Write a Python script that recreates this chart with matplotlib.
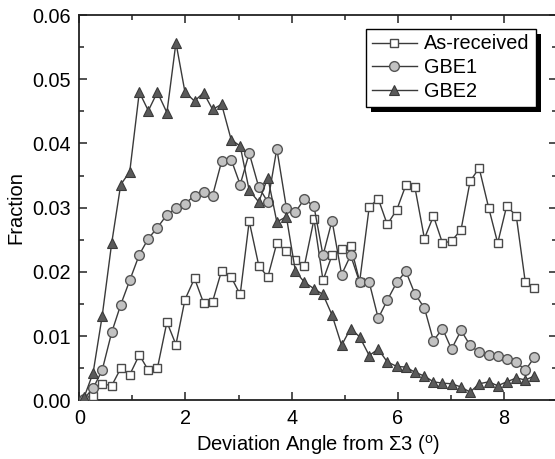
import matplotlib
matplotlib.use("Agg")
import matplotlib.pyplot as plt
from matplotlib.patches import Rectangle
from matplotlib.ticker import MultipleLocator, FormatStrFormatter

plt.rcParams['font.family'] = ['Liberation Sans', 'DejaVu Sans']
plt.rcParams['mathtext.fontset'] = 'custom'
plt.rcParams['mathtext.rm'] = 'Liberation Sans'
plt.rcParams['mathtext.it'] = 'Liberation Sans:italic'

angle = [0.09, 0.26, 0.43, 0.61, 0.78, 0.95, 1.13, 1.30, 1.47, 1.65,
         1.82, 1.99, 2.17, 2.34, 2.51, 2.68, 2.86, 3.03, 3.20, 3.38,
         3.55, 3.72, 3.90, 4.07, 4.24, 4.42, 4.59, 4.76, 4.94, 5.11,
         5.28, 5.46, 5.63, 5.80, 5.98, 6.15, 6.32, 6.50, 6.67, 6.84,
         7.01, 7.19, 7.36, 7.53, 7.71, 7.88, 8.05, 8.23, 8.40, 8.57]

as_received = [0.0000, 0.0007, 0.0026, 0.0023, 0.0050, 0.0040, 0.0071, 0.0047, 0.0050, 0.0122,
               0.0087, 0.0157, 0.0190, 0.0152, 0.0154, 0.0202, 0.0192, 0.0165, 0.0279, 0.0210,
               0.0192, 0.0245, 0.0232, 0.0218, 0.0210, 0.0282, 0.0187, 0.0226, 0.0236, 0.0241,
               0.0185, 0.0301, 0.0314, 0.0274, 0.0297, 0.0335, 0.0332, 0.0252, 0.0287, 0.0245,
               0.0248, 0.0266, 0.0341, 0.0362, 0.0300, 0.0245, 0.0303, 0.0287, 0.0184, 0.0175]

gbe1 = [0.0003, 0.0019, 0.0047, 0.0106, 0.0149, 0.0187, 0.0227, 0.0252, 0.0269, 0.0289,
        0.0299, 0.0306, 0.0319, 0.0324, 0.0319, 0.0372, 0.0375, 0.0336, 0.0385, 0.0332,
        0.0309, 0.0392, 0.0300, 0.0293, 0.0314, 0.0302, 0.0226, 0.0280, 0.0196, 0.0226,
        0.0184, 0.0184, 0.0128, 0.0156, 0.0184, 0.0201, 0.0166, 0.0144, 0.0093, 0.0112,
        0.0080, 0.0109, 0.0086, 0.0075, 0.0071, 0.0069, 0.0065, 0.0060, 0.0047, 0.0067]

gbe2 = [0.0005, 0.0043, 0.0131, 0.0245, 0.0336, 0.0356, 0.0480, 0.0451, 0.0480, 0.0448,
        0.0557, 0.0480, 0.0466, 0.0479, 0.0453, 0.0461, 0.0406, 0.0396, 0.0327, 0.0309,
        0.0347, 0.0278, 0.0286, 0.0201, 0.0184, 0.0174, 0.0165, 0.0133, 0.0086, 0.0112,
        0.0099, 0.0070, 0.0080, 0.0060, 0.0053, 0.0052, 0.0044, 0.0038, 0.0029, 0.0027,
        0.0026, 0.0021, 0.0013, 0.0026, 0.0029, 0.0023, 0.0029, 0.0035, 0.0032, 0.0038]

labels = ['As-received', 'GBE1', 'GBE2']

fig = plt.figure(figsize=(5.55, 4.59), dpi=100)
ax = fig.add_axes([0.1429, 0.1275, 0.861, 0.8398])

line_c = '#3a3a3a'
ax.plot(angle, as_received, '-s', color=line_c, lw=1.0, ms=6.3,
        mfc='white', mec='#4a4a4a', mew=1.0, label=labels[0], zorder=3)
ax.plot(angle, gbe1, '-o', color=line_c, lw=1.0, ms=7.0,
        mfc='#c2c2c2', mec='#555555', mew=1.0, label=labels[1], zorder=4)
ax.plot(angle, gbe2, '-^', color=line_c, lw=1.0, ms=7.5,
        mfc='#5a5a5a', mec='#3a3a3a', mew=0.8, label=labels[2], zorder=5)

ax.set_xlim(0, 9)
ax.set_ylim(0, 0.06)
ax.xaxis.set_major_locator(MultipleLocator(2))
ax.xaxis.set_minor_locator(MultipleLocator(1))
ax.yaxis.set_major_locator(MultipleLocator(0.01))
ax.yaxis.set_minor_locator(MultipleLocator(0.005))
ax.yaxis.set_major_formatter(FormatStrFormatter('%.2f'))
ax.tick_params(which='both', direction='in', top=True, right=True,
               width=1.1, colors='#222222', labelsize=14.3, labelcolor='black')
ax.tick_params(which='major', length=6, pad=6)
ax.tick_params(which='minor', length=3.5)
for s in ax.spines.values():
    s.set_linewidth(1.3)
    s.set_color('#222222')

ax.set_xlabel('Deviation Angle from Σ3 ($^{\\mathrm{o}}$)', fontsize=14.5, labelpad=4)
ax.set_ylabel('Fraction', fontsize=14.5, labelpad=5)

leg = ax.legend(loc='upper right', bbox_to_anchor=(0.955, 0.965), fontsize=14.3,
                frameon=True, fancybox=False, edgecolor='black', framealpha=1,
                handlelength=2.3, handletextpad=0.35, borderpad=0.3,
                labelspacing=0.25, borderaxespad=0.0)
leg.get_frame().set_linewidth(1.0)
leg.set_zorder(10)

fig.canvas.draw()
bb = leg.get_window_extent()
shadow = Rectangle((bb.x0 + 5, bb.y0 - 5), bb.width, bb.height, transform=None,
                   facecolor='black', edgecolor='none', zorder=9, clip_on=False)
ax.add_artist(shadow)

fig.savefig('out.png', dpi=100)
